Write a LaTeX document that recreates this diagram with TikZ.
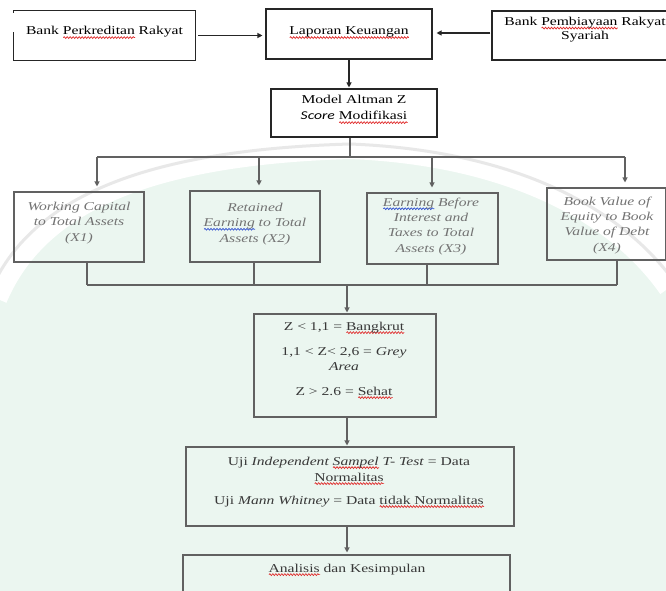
\documentclass[tikz,border=0pt]{standalone}
\usepackage{fontspec}
\setmainfont{Liberation Serif}[FakeStretch=1.3]
\newfontfamily\sansfnt{Carlito}[FakeStretch=1.3]
\usetikzlibrary{arrows.meta,decorations.pathmorphing}
\definecolor{mint}{HTML}{EBF6F0}
\definecolor{wavered}{HTML}{E02828}
\definecolor{waveblue}{HTML}{3050D0}
\newsavebox\wavebox
\newcommand\wavy[2]{\sbox\wavebox{#2}\leavevmode\rlap{\tikz[baseline=0pt]\draw[#1, line width=0.7pt, decorate, decoration={snake, amplitude=0.9pt, segment length=3pt}] (0pt,-2.6pt) -- (\wd\wavebox,-2.6pt);}\usebox\wavebox}
\newcommand\rw[1]{\wavy{wavered}{#1}}
\newcommand\bw[1]{\wavy{waveblue}{#1}}
\tikzset{
  topline/.style={draw=black!85, line width=1.1pt},
  lowline/.style={draw=black!62, line width=1.1pt},
  topbox/.style={topline, inner sep=0pt, fill=none},
  lowbox/.style={lowline, inner sep=0pt, fill=none},
  toparr/.style={topline, -{Triangle[length=5pt,width=5pt]}},
  lowarr/.style={lowline, -{Triangle[length=5pt,width=5pt]}},
  txt/.style={inner sep=0pt, anchor=base, align=center, font=\fontsize{12}{15}\selectfont},
  toptxt/.style={txt, text=black},
  xtxt/.style={txt, text=black!55, font=\fontsize{12}{15.3}\selectfont\itshape},
  lowtxt/.style={txt, text=black!78}
}
\begin{document}
\begin{tikzpicture}[x=1pt,y=-1pt]
\useasboundingbox (0,0) rectangle (666,591);
% background watermark
\begin{scope}
\clip (0,0) rectangle (666,591);
\fill[white] (0,0) rectangle (666,591);
\fill[mint] (0,300) .. controls (40,205) and (150,158) .. (350,152) .. controls (500,158) and (610,210) .. (666,290) -- (666,591) -- (0,591) -- cycle;
\draw[white, line width=14pt] (0,300) .. controls (40,205) and (150,158) .. (350,152) .. controls (500,158) and (610,210) .. (666,290);
\draw[black!9, line width=3pt] (-10,292) .. controls (30,197) and (145,150) .. (350,144) .. controls (505,150) and (618,202) .. (676,284);
\end{scope}

% top row boxes
\node[minimum width=181pt, minimum height=49pt, inner sep=0pt] (b1) at (104.5,35.5) {};
\draw[topline] ([yshift=-2pt]b1.north west) -- (b1.north west) -- (b1.north east) -- (b1.south east) -- (b1.south west) -- ([yshift=28pt]b1.south west);
\node[topbox, minimum width=166pt, minimum height=50pt] (b2) at (349,34) {};
\node[topbox, minimum width=186pt, minimum height=49pt] (b3) at (585,35.5) {};
\node[topbox, minimum width=166pt, minimum height=48pt] (m) at (354,113) {};

\node[toptxt] (b1t) at (104.5,35) {Bank \rw{Perkreditan} Rakyat};
\node[toptxt] (b2t) at (349,35) {\rw{Laporan Keuangan}};
\node[toptxt, font=\fontsize{12}{14.5}\selectfont] (b3t) at (585,40) {Bank \rw{Pembiayaan} Rakyat\\Syariah};
\node[toptxt, font=\fontsize{12}{17}\selectfont] (mt) at (354,120) {Model Altman Z\\{\sansfnt\itshape Score} \rw{Modifikasi}};

\draw[toparr, shorten <=3pt, shorten >=3pt] (b1.east) -- (b1.east -| b2.west);
\draw[toparr, shorten <=1pt, shorten >=4pt] ([yshift=2.5pt]b3.west) -- ([yshift=2.5pt]b3.west -| b2.east);
\draw[toparr, shorten >=1pt] (b2.south) -- (b2.south |- m.north);

% X boxes
\node[lowbox, minimum width=130pt, minimum height=70pt] (x1) at (79,227) {};
\node[lowbox, minimum width=130pt, minimum height=71pt] (x2) at (255,226.5) {};
\node[lowbox, minimum width=131pt, minimum height=71pt] (x3) at (432.5,228.5) {};
\node[lowbox, minimum width=119pt, minimum height=72pt] (x4) at (606.5,224) {};

\node[xtxt] (x1t) at (79,241) {Working Capital\\to Total Assets\\(X1)};
\node[xtxt] (x2t) at (255,242) {Retained\\\bw{Earning} to Total\\Assets (X2)};
\node[xtxt] (x3t) at (431,252) {\bw{Earning} Before\\Interest and\\Taxes to Total\\Assets (X3)};
\node[xtxt] (x4t) at (607,251) {Book Value of\\Equity to Book\\Value of Debt\\(X4)};

% distribution bus
\coordinate (ms) at ([xshift=-4pt]m.south);
\coordinate (d0) at (350,157);
\coordinate (d1) at (97,157);
\coordinate (d2) at (259,157);
\coordinate (d3) at (432,157);
\coordinate (d4) at (625,157);
\draw[lowline] (ms) -- (d0);
\draw[lowline] (d1) -- (d4);
\draw[lowarr, shorten >=5pt] (d1) -- (d1 |- x1.north);
\draw[lowarr, shorten >=5pt] (d2) -- (d2 |- x2.north);
\draw[lowarr, shorten >=5pt] (d3) -- (d3 |- x3.north);
\draw[lowarr, shorten >=5pt] (d4) -- (d4 |- x4.north);

% Z box
\node[lowbox, minimum width=182pt, minimum height=103pt] (z) at (345,365.5) {};
\node[lowtxt] (zt) at (344,395) {Z < 1,1 = \rw{Bangkrut}\\[10pt]1,1 < Z< 2,6 = \textit{Grey}\\\textit{Area}\\[10pt]Z > 2.6 = \rw{Sehat}};

% collecting bus
\coordinate (c0) at (347,285);
\coordinate (c1) at (87,285);
\coordinate (c2) at (254,285);
\coordinate (c3) at (427,285);
\coordinate (c4) at (617,285);
\draw[lowline] (c1 |- x1.south) -- (c1);
\draw[lowline] (c2 |- x2.south) -- (c2);
\draw[lowline] (c3 |- x3.south) -- (c3);
\draw[lowline] (c4 |- x4.south) -- (c4);
\draw[lowline] (c1) -- (c4);
\draw[lowarr, shorten >=1pt] (c0) -- (c0 |- z.north);

% Uji box
\node[lowbox, minimum width=328pt, minimum height=79pt] (u) at (350,486.5) {};
\node[lowtxt, font=\fontsize{12}{16}\selectfont] (ut) at (349,504) {Uji \textit{Independent \rw{Sampel} T- Test} = Data\\\rw{Normalitas}\\[7pt]Uji \textit{Mann Whitney} = Data \rw{tidak Normalitas}};
\coordinate (zs) at (347,417);
\draw[lowarr, shorten >=1pt] (zs) -- (zs |- u.north);

% Analisis box
\node[lowbox, minimum width=327pt, minimum height=50pt] (a) at (346.5,580) {};
\node[lowtxt] (at) at (347,572) {\rw{Analisis} dan Kesimpulan};
\coordinate (us) at (347,526);
\draw[lowarr, shorten >=2pt] (us) -- (us |- a.north);
\end{tikzpicture}
\end{document}
